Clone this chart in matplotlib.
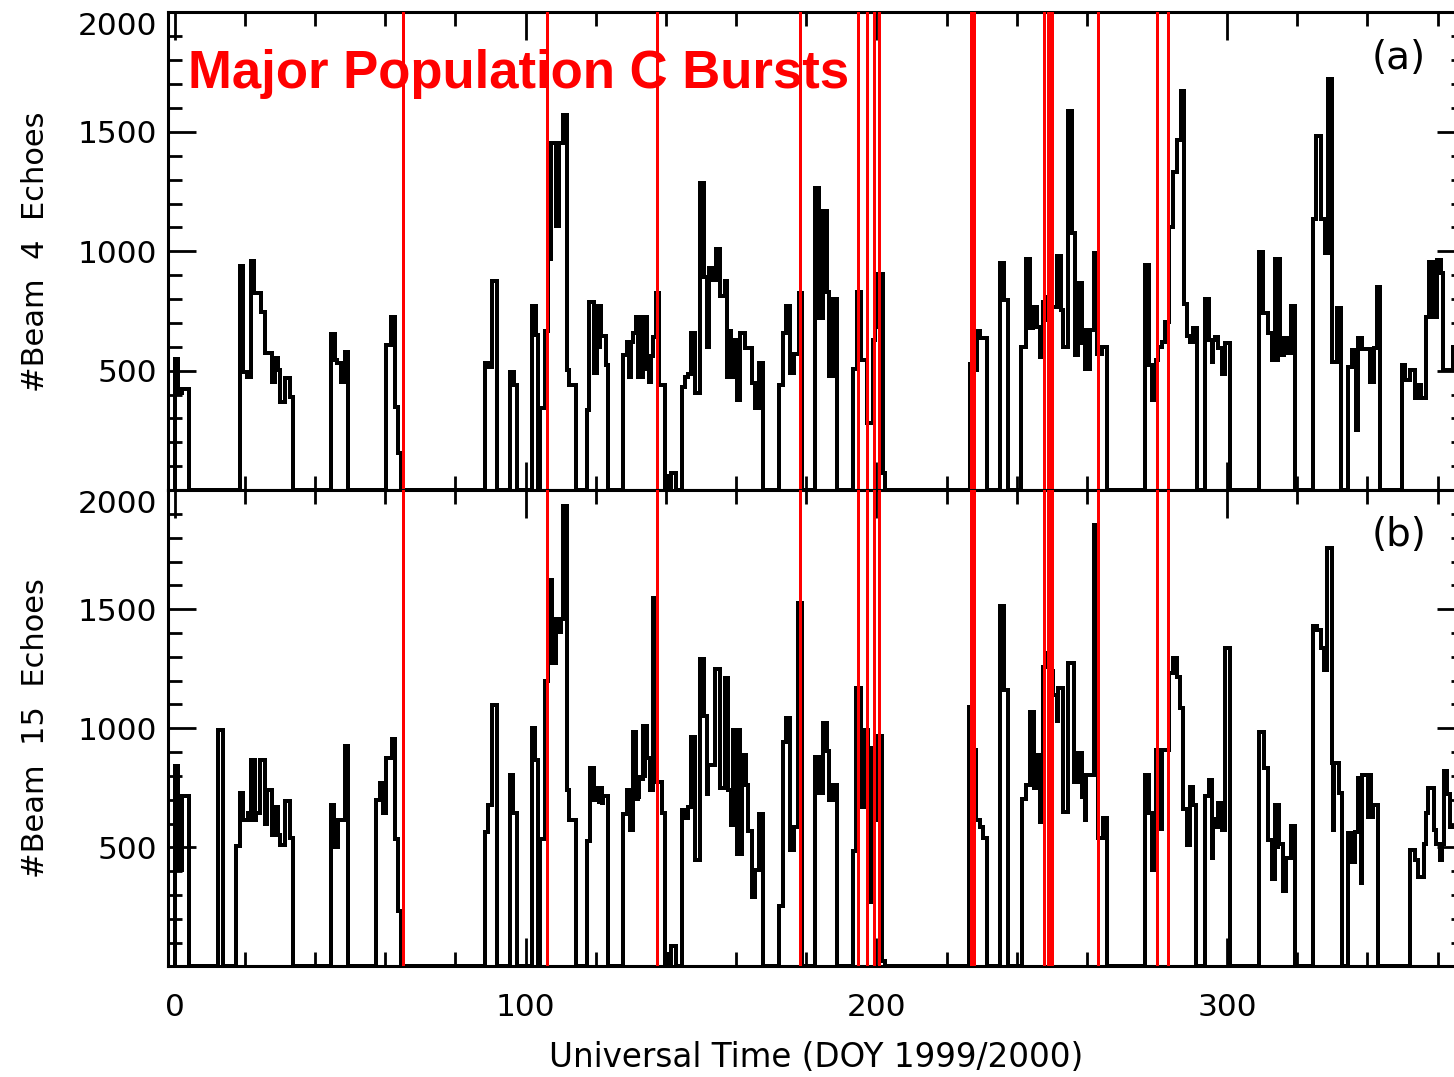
import matplotlib
matplotlib.use("Agg")
import matplotlib.pyplot as plt
from matplotlib.ticker import MultipleLocator

# daily echo counts, stored as step starts (DOY) and counts; last edge closes the year
beam4_start = [
    0.0, 0.4, 0.7, 1.0, 1.9, 4.0,
    18.5, 19.5, 20.7, 21.6, 22.0, 22.3, 22.6, 24.5, 25.7, 27.7, 28.5, 29.5, 30.1, 31.4, 32.8, 33.7,
    44.4, 45.6, 46.3, 47.5, 48.5, 49.4,
    60.2, 61.6, 62.7, 63.5, 64.6,
    88.4, 89.5, 90.5, 91.7, 95.5, 96.7, 97.6,
    101.7, 102.9, 103.6, 104.1, 105.5, 106.5, 107.1, 108.7, 109.5, 110.7, 111.9, 112.5, 114.5,
    117.6, 118.2, 119.5, 120.4, 120.8, 121.1, 121.5, 122.8, 123.6,
    127.7, 128.8, 129.6, 130.0, 130.7, 131.5, 131.9, 132.2, 132.6, 133.6, 134.5, 135.3, 135.8,
    136.4, 137.2, 138.1, 139.7, 140.0, 140.7, 141.4, 142.9,
    144.5, 145.4, 146.4, 147.1, 148.3, 149.7, 150.2, 150.6, 150.9, 151.8, 152.2, 153.5, 154.2,
    155.4, 156.8, 157.3, 157.8, 158.6, 159.2, 160.4, 161.0, 162.6, 164.5, 165.4, 166.6, 167.8,
    172.3, 173.5, 174.2, 175.4, 176.6, 177.8, 178.9,
    182.5, 183.7, 184.7, 185.8, 186.6, 187.7, 188.7,
    193.3, 194.4, 195.5, 197.2, 199.0, 199.6, 200.6, 201.8, 202.5,
    226.7, 227.6, 228.6, 229.6, 231.5, 235.3, 236.5, 237.6,
    241.3, 242.7, 243.8, 244.6, 245.7, 246.7, 247.4, 248.4, 249.0, 249.7, 251.4, 252.5, 253.3,
    254.7, 255.7, 256.7, 257.6, 258.5, 259.2, 259.6, 260.0, 260.4, 260.9, 262.1, 263.0, 264.2, 265.7,
    276.6, 277.7, 278.5, 279.7, 280.4, 281.3, 282.3, 283.5, 284.7, 285.6, 286.8, 287.3, 287.5,
    287.7, 288.5, 289.5, 290.4, 291.3,
    293.7, 294.9, 295.6, 296.0, 296.6, 297.5, 298.5, 299.4, 300.8,
    309.2, 310.3, 311.8, 312.7, 313.7, 314.2, 314.5, 315.0, 316.1, 317.0, 318.2, 319.4,
    324.6, 325.4, 326.7, 327.9, 328.9, 329.8, 331.3, 331.7, 332.0, 332.5,
    334.6, 335.5, 336.7, 337.4, 338.4, 340.8, 341.2, 341.6, 342.0, 342.6, 343.6,
    349.8, 350.7, 352.1, 353.5, 354.5, 355.4, 356.6, 357.6, 358.5, 358.9, 359.3, 359.9, 360.9,
    361.6, 364.5,
]
beam4_count = [
    550, 420, 550, 405, 425, 0,
    940, 495, 475, 960, 830, 960, 826, 747, 575, 454, 554, 502, 370, 470, 391, 0,
    652, 544, 530, 454, 579, 0,
    607, 726, 346, 154, 0,
    533, 516, 875, 0, 495, 440, 0,
    772, 649, 0, 342, 666, 967, 1454, 1105, 1454, 1570, 502, 440, 0,
    335, 789, 491, 770, 600, 770, 645, 523, 0,
    565, 621, 475, 621, 659, 726, 475, 726, 475, 726, 505, 454, 560,
    642, 826, 440, 0, 60, 0, 70, 0,
    433, 475, 488, 659, 408, 1284, 900, 1284, 893, 600, 931, 879, 1008,
    814, 875, 475, 666, 475, 628, 377, 659, 593, 447, 342, 533, 0,
    440, 659, 772, 491, 569, 826, 0,
    1263, 719, 1168, 830, 477, 802, 0,
    509, 830, 544, 279, 628, 684, 903, 70, 0,
    526, 502, 666, 635, 0, 949, 796, 0,
    600, 966, 677, 768, 684, 558, 789, 810, 712, 768, 980, 754, 600,
    1587, 1075, 565, 868, 614, 670, 509, 670, 509, 670, 991, 568, 600, 0,
    942, 523, 377, 544, 600, 621, 705, 1103, 1333, 1468, 1670, 1468, 1670,
    779, 645, 621, 677, 0,
    802, 628, 537, 628, 642, 593, 488, 617, 0,
    998, 740, 656, 544, 966, 544, 966, 565, 635, 572, 772, 0,
    1137, 1482, 1137, 991, 1721, 537, 761, 560, 761, 0,
    516, 586, 251, 638, 589, 454, 589, 454, 593, 849, 0,
    523, 461, 502, 384, 440, 384, 726, 956, 726, 956, 726, 963, 907,
    502, 600,
]

beam15_start = [
    0.0, 0.4, 0.7, 1.0, 1.9, 4.0, 12.2, 13.8,
    17.4, 18.5, 19.5, 20.9, 21.6, 22.0, 22.3, 22.7, 23.0, 24.2, 25.7, 26.3, 27.6, 28.5, 29.3,
    30.1, 31.4, 32.8, 33.7,
    44.4, 45.4, 46.6, 48.5, 49.4,
    57.3, 58.4, 59.3, 59.6, 59.9, 60.3, 61.8, 62.7, 63.5, 64.6,
    88.4, 89.4, 90.5, 91.7, 95.5, 96.4, 97.6,
    101.7, 102.8, 103.6, 104.1, 105.5, 106.5, 106.9, 107.2, 107.6, 108.8, 109.8, 110.2, 110.7,
    111.7, 112.4, 114.5,
    117.6, 118.3, 119.6, 120.4, 120.8, 121.1, 121.7, 122.1, 123.6,
    127.7, 128.8, 129.7, 130.5, 131.5, 131.9, 132.2, 132.4, 133.4, 133.8, 134.1, 134.5, 135.5,
    136.4, 137.5, 138.8, 139.7, 140.0, 140.7, 141.4, 142.9,
    144.5, 145.4, 146.4, 147.1, 148.3, 149.7, 150.1, 150.4, 150.8, 151.6, 152.0, 154.0, 155.4,
    156.8, 157.2, 157.5, 157.8, 158.5, 159.0, 160.4, 160.8, 161.2, 161.6, 162.7, 163.5, 164.5,
    165.4, 166.6, 167.8,
    172.3, 173.5, 174.2, 175.4, 176.6, 177.6, 178.7,
    182.5, 183.7, 184.7, 185.8, 186.6, 187.7, 188.7,
    193.3, 194.2, 194.6, 194.9, 195.6, 196.8, 197.7, 198.8, 199.6, 200.6, 201.5, 202.5,
    226.5, 227.4, 228.4, 229.5, 230.4, 231.5, 235.3, 236.5, 237.6,
    241.4, 242.7, 243.8, 244.9, 245.7, 246.6, 247.0, 247.4, 248.4, 249.3, 250.3, 251.4, 251.8,
    253.2, 254.7, 256.4, 257.6, 258.5, 259.4, 259.8, 262.1, 263.3, 264.5, 265.7,
    276.6, 277.7, 278.7, 279.7, 280.4, 281.3, 283.5, 284.7, 285.6, 286.6, 287.5, 288.5, 289.4,
    290.2, 291.1,
    293.7, 294.9, 295.6, 296.0, 296.6, 297.5, 298.5, 299.4, 300.8,
    309.2, 310.5, 311.8, 312.7, 313.7, 314.1, 314.4, 314.9, 315.9, 316.8, 318.2, 319.4,
    324.6, 325.6, 326.7, 327.5, 328.6, 329.8, 330.2, 330.5, 331.9, 332.7,
    334.6, 335.5, 335.9, 336.2, 336.5, 337.4, 337.8, 338.0, 338.3, 338.6, 340.3, 340.7, 341.0,
    341.5, 342.9,
    352.2, 353.6, 354.5, 356.0, 356.7, 357.4, 359.0, 359.7, 360.7, 361.2, 361.7, 362.8, 363.6,
]
beam15_count = [
    840, 406, 840, 406, 714, 0, 994, 0,
    504, 728, 616, 644, 866, 616, 866, 616, 644, 866, 600, 742, 553, 669, 553,
    511, 693, 539, 0,
    676, 501, 616, 924, 0,
    700, 770, 644, 770, 644, 875, 957, 536, 231, 0,
    564, 679, 1097, 0, 803, 644, 0,
    1001, 866, 0, 536, 1197, 1622, 1272, 1622, 1272, 1457, 1405, 1457, 1933,
    742, 613, 0,
    525, 833, 700, 751, 690, 751, 686, 714, 0,
    641, 742, 571, 985, 704, 795, 704, 789, 1008, 800, 1008, 875, 740,
    1548, 775, 644, 0, 53, 0, 84, 0,
    655, 623, 669, 964, 448, 1289, 1050, 1289, 1050, 726, 847, 1248, 749,
    1211, 749, 1211, 742, 592, 994, 471, 994, 471, 889, 763, 567, 291,
    406, 641, 0,
    256, 943, 1041, 490, 585, 1527, 0,
    880, 728, 1022, 903, 700, 763, 0,
    483, 1170, 900, 1170, 669, 994, 270, 917, 616, 966, 21, 0,
    1090, 910, 616, 585, 539, 0, 1513, 1160, 0,
    704, 763, 1069, 749, 887, 606, 887, 1258, 1317, 1240, 1141, 1029, 1167,
    648, 1272, 775, 896, 711, 613, 803, 1853, 539, 623, 0,
    803, 644, 406, 910, 578, 910, 1230, 1293, 1216, 1085, 662, 508, 753,
    679, 0,
    714, 784, 455, 620, 585, 686, 571, 1335, 0,
    985, 833, 532, 368, 679, 500, 679, 515, 319, 455, 588, 0,
    1429, 1412, 1335, 1244, 1755, 854, 574, 854, 728, 0,
    560, 438, 560, 438, 564, 791, 560, 791, 350, 803, 627, 803, 627,
    676, 0,
    487, 448, 375, 515, 644, 749, 571, 515, 445, 515, 819, 725, 585,
]
year_end = 366

# DOY of the major population C bursts (red markers)
burst_days = [65.1, 106.0, 137.5, 178.3, 194.8, 197.2, 200.8, 227.1, 227.5, 227.8,
              247.9, 248.9, 249.5, 250.2, 263.3, 279.9, 283.2]
faint_burst_days = [199.3]

panels = [
    ("#Beam  4  Echoes", "(a)", beam4_start, beam4_count),
    ("#Beam  15  Echoes", "(b)", beam15_start, beam15_count),
]

fig = plt.figure(figsize=(14.54, 10.77), dpi=100)
ax_a = fig.add_axes([0.1157, 0.5450, 0.8918, 0.4434])
ax_b = fig.add_axes([0.1157, 0.1026, 0.8918, 0.4424])

for ax, (ylab, tag, starts, counts) in zip([ax_a, ax_b], panels):
    ax.stairs(counts, starts + [year_end], color="black", lw=1.5, baseline=0,
              antialiased=False)
    for d in burst_days:
        ax.axvline(d, color="#ff0000", lw=2.1, zorder=3, antialiased=False)
    for d in faint_burst_days:
        ax.axvline(d, color="#ff0000", lw=0.8, zorder=3, antialiased=False)

    ax.set_xlim(-1.9, 367.8)
    ax.set_ylim(0, 2000)
    ax.xaxis.set_major_locator(MultipleLocator(100))
    ax.xaxis.set_minor_locator(MultipleLocator(20))
    ax.set_yticks([500, 1000, 1500, 2000])
    ax.yaxis.set_minor_locator(MultipleLocator(100))
    ax.tick_params(which="both", direction="in", top=True, right=True,
                   labelsize=22.5, width=2)
    ax.tick_params(which="major", length=20)
    ax.tick_params(which="minor", length=10)
    ax.tick_params(axis="y", pad=8)
    ax.tick_params(axis="x", pad=19)
    for sp in ax.spines.values():
        sp.set_linewidth(2.2)
    ax.get_yticklabels()[-1].set_va("top")

    ax.set_ylabel(ylab, fontsize=22)
    ax.yaxis.set_label_coords(-0.091, 0.5)
    ax.text(0.949, 0.905, tag, transform=ax.transAxes, fontsize=28,
            ha="center", va="center")

ax_a.tick_params(axis="x", labelbottom=False)
ax_b.set_xlabel("Universal Time (DOY 1999/2000)", fontsize=23.5)
ax_b.xaxis.set_label_coords(0.5, -0.157)

ax_a.text(0.0152, 0.842, "Major Population C Bursts", transform=ax_a.transAxes,
          color="#ff0000", fontsize=38, fontweight="bold",
          family="Liberation Sans", va="baseline", zorder=4)

fig.savefig("out.png", dpi=100)
